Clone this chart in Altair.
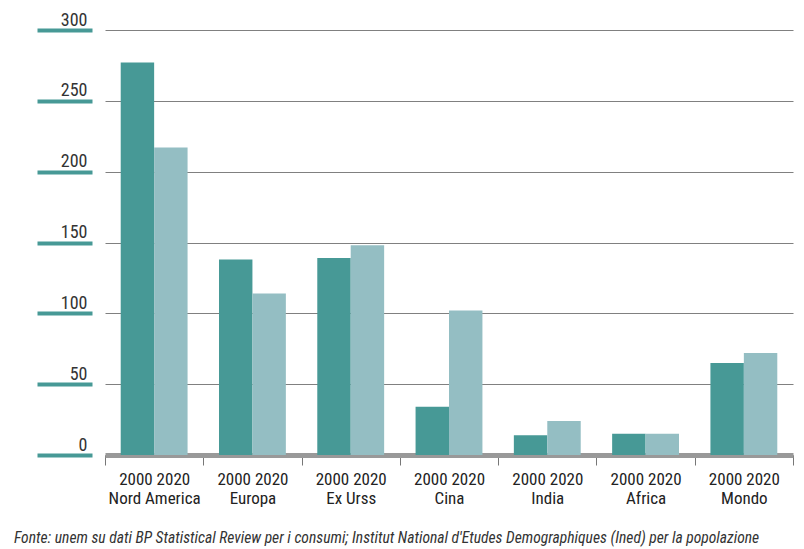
import altair as alt
import pandas as pd

categories = ["Nord America", "Europa", "Ex Urss", "Cina", "India", "Africa", "Mondo"]
years = ["2000", "2020"]
v2000 = [277, 138, 139, 34, 14, 15, 65]
v2020 = [217, 114, 148, 102, 24, 15, 72]
y_ticks = [0, 50, 100, 150, 200, 250, 300]
source = "Fonte: unem su dati BP Statistical Review per i consumi; Institut National d'Etudes Demographiques (Ined) per la popolazione"

rows = []
for c, a, b in zip(categories, v2000, v2020):
    rows.append({"cat": c, "year": years[0], "val": a})
    rows.append({"cat": c, "year": years[1], "val": b})
df = pd.DataFrame(rows)

FONT = "Liberation Sans Narrow, Roboto Condensed, Arial Narrow, Roboto, sans-serif"
W, H = 688, 425

bars = alt.Chart(df).mark_bar().encode(
    x=alt.X("cat:N", sort=categories,
            scale=alt.Scale(paddingInner=0, paddingOuter=0),
            axis=alt.Axis(title=None, labelAngle=0, domain=True, domainColor="#999999",
                          domainWidth=5, ticks=True, tickBand="extent",
                          tickColor="#777777", tickSize=10, tickWidth=1,
                          labelExpr="isValid(datum.value) ? ['2000  2020', datum.value] : ''",
                          labelFont=FONT, labelFontSize=17, labelColor="#222222",
                          labelLineHeight=19, labelPadding=6, labelBaseline="top")),
    xOffset=alt.XOffset("year:N", sort=years,
                        scale=alt.Scale(paddingInner=0, paddingOuter=0.47)),
    y=alt.Y("val:Q", scale=alt.Scale(domain=[0, 300], nice=False),
            axis=alt.Axis(title=None, values=y_ticks, domain=False, grid=True,
                          gridColor="#808080", gridWidth=1,
                          ticks=True, tickColor="#479996", tickWidth=4, tickSize=55,
                          offset=13, labelPadding=-50, labelAlign="right",
                          labelBaseline="alphabetic", labelOffset=-5,
                          labelFont=FONT, labelFontSize=18, labelColor="#333333")),
    color=alt.Color("year:N", sort=years,
                    scale=alt.Scale(domain=years, range=["#479996", "#94bec3"]),
                    legend=None),
)

src = alt.Chart(pd.DataFrame({"t": [source]})).mark_text(
    align="left", baseline="alphabetic", font=FONT, fontSize=15.6,
    fontStyle="italic", color="#333333"
).encode(text="t:N", x=alt.value(-91), y=alt.value(513))

chart = alt.layer(bars, src).properties(
    width=W, height=H,
    autosize=alt.AutoSizeParams(type="none"),
    padding={"left": 97, "top": 22, "right": 3, "bottom": 95},
).configure_view(stroke=None)

chart.save("out.html", embed_options={"renderer": "svg", "actions": False})
